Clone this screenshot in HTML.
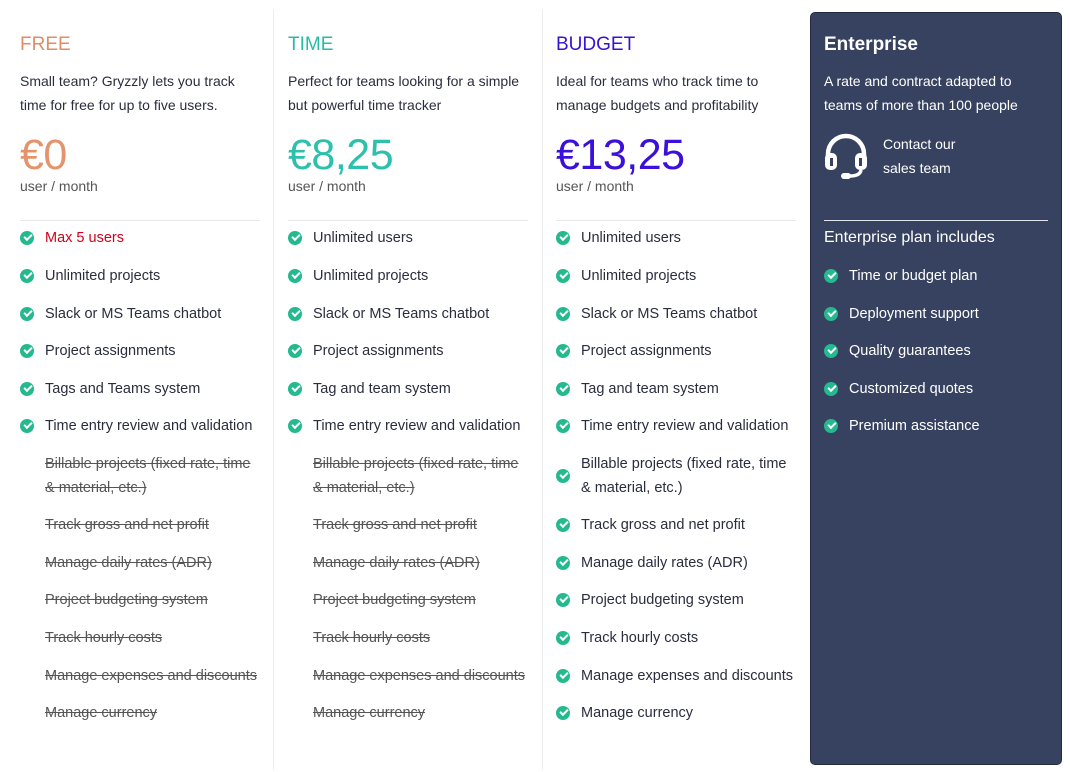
<!DOCTYPE html>
<html><head><meta charset="utf-8"><style>
body{margin:0;width:1070px;height:772px;background:#fff;font-family:"Liberation Sans",sans-serif;color:#2a2d3e;position:relative;overflow:hidden}
.a{position:absolute;white-space:nowrap}
.t{font-size:19px}
.d{font-size:14px;line-height:24px}
.p{font-size:43px;line-height:44px;letter-spacing:-0.5px}
.u{font-size:14px;color:#555}
.hr{position:absolute;height:1px;background:#e8e8ea}
.vr{position:absolute;width:1px;top:10px;height:760px;background:#ededee}
.i{position:absolute;font-size:14.5px;line-height:24px;white-space:nowrap;padding-left:25px}
.i::before{content:"";position:absolute;left:0;top:5px;width:14px;height:14px;border-radius:50%;background:#24b98e}
.i::after{content:"";position:absolute;left:4px;top:8px;width:6px;height:3px;border-left:2px solid #fff;border-bottom:2px solid #fff;transform:rotate(-45deg)}
.i.x{color:#555;text-decoration:line-through}
.i.x::before,.i.x::after{display:none}
.w .i{color:#fff}
.i.m::before{top:17px}.i.m::after{top:20px}
</style></head><body>
<div class="vr" style="left:273px"></div><div class="vr" style="left:542px"></div>
<div style="position:absolute;left:810px;top:12px;width:250px;height:751px;background:#36425f;border-radius:5px;border:1px solid #222b40"></div>

<div class="a t" style="left:20px;top:34px;color:#de8e66">FREE</div>
<div class="a d" style="left:20px;top:69px">Small team? Gryzzly lets you track<br>time for free for up to five users.</div>
<div class="a p" style="left:20px;top:133px;color:#e4946c">€0</div>
<div class="a u" style="left:20px;top:178px">user / month</div>
<div class="hr" style="left:20px;width:240px;top:220px"></div>

<div class="a t" style="left:288px;top:34px;color:#27bba8">TIME</div>
<div class="a d" style="left:288px;top:69px">Perfect for teams looking for a simple<br>but powerful time tracker</div>
<div class="a p" style="left:288px;top:133px;color:#2cc0ad">€8,25</div>
<div class="a u" style="left:288px;top:178px">user / month</div>
<div class="hr" style="left:288px;width:240px;top:220px"></div>

<div class="a t" style="left:556px;top:34px;color:#3612d4">BUDGET</div>
<div class="a d" style="left:556px;top:69px">Ideal for teams who track time to<br>manage budgets and profitability</div>
<div class="a p" style="left:556px;top:133px;color:#3a10da">€13,25</div>
<div class="a u" style="left:556px;top:178px">user / month</div>
<div class="hr" style="left:556px;width:240px;top:220px"></div>

<div class="a" style="left:824px;top:34px;font-size:19px;font-weight:bold;color:#fff">Enterprise</div>
<div class="a d" style="left:824px;top:69px;color:#fff">A rate and contract adapted to<br>teams of more than 100 people</div>
<svg style="position:absolute;left:822px;top:132px" width="48" height="48" viewBox="0 0 48 48"><path d="M6 28 V22 A18 18 0 0 1 42 22 V28" fill="none" stroke="#fff" stroke-width="4.5"/><rect x="3" y="21" width="12" height="17" rx="5" fill="#fff"/><rect x="33" y="21" width="12" height="17" rx="5" fill="#fff"/><rect x="8" y="26" width="3" height="8" fill="#36425f"/><rect x="37" y="26" width="3" height="8" fill="#36425f"/><path d="M39 38 Q38 44 28 44" fill="none" stroke="#fff" stroke-width="3.5"/><rect x="19" y="41" width="10" height="6" rx="3" fill="#fff"/></svg>
<div class="a d" style="left:883px;top:132px;color:#fff">Contact our<br>sales team</div>
<div class="hr" style="left:824px;width:224px;top:220px;background:#e0e3ea"></div>
<div class="a" style="left:824px;top:229px;font-size:16px;color:#fff">Enterprise plan includes</div>

<div style="position:absolute;left:20px;top:0">
<div class="i" style="top:226px;color:#d0021b">Max 5 users</div>
<div class="i" style="top:264px">Unlimited projects</div>
<div class="i" style="top:302px">Slack or MS Teams chatbot</div>
<div class="i" style="top:339px">Project assignments</div>
<div class="i" style="top:377px">Tags and Teams system</div>
<div class="i" style="top:414px">Time entry review and validation</div>
<div class="i x" style="top:452px">Billable projects (fixed rate, time<br>&amp; material, etc.)</div>
<div class="i x" style="top:513px">Track gross and net profit</div>
<div class="i x" style="top:551px">Manage daily rates (ADR)</div>
<div class="i x" style="top:588px">Project budgeting system</div>
<div class="i x" style="top:626px">Track hourly costs</div>
<div class="i x" style="top:664px">Manage expenses and discounts</div>
<div class="i x" style="top:701px">Manage currency</div>
</div>

<div style="position:absolute;left:288px;top:0">
<div class="i" style="top:226px">Unlimited users</div>
<div class="i" style="top:264px">Unlimited projects</div>
<div class="i" style="top:302px">Slack or MS Teams chatbot</div>
<div class="i" style="top:339px">Project assignments</div>
<div class="i" style="top:377px">Tag and team system</div>
<div class="i" style="top:414px">Time entry review and validation</div>
<div class="i x" style="top:452px">Billable projects (fixed rate, time<br>&amp; material, etc.)</div>
<div class="i x" style="top:513px">Track gross and net profit</div>
<div class="i x" style="top:551px">Manage daily rates (ADR)</div>
<div class="i x" style="top:588px">Project budgeting system</div>
<div class="i x" style="top:626px">Track hourly costs</div>
<div class="i x" style="top:664px">Manage expenses and discounts</div>
<div class="i x" style="top:701px">Manage currency</div>
</div>

<div style="position:absolute;left:556px;top:0">
<div class="i" style="top:226px">Unlimited users</div>
<div class="i" style="top:264px">Unlimited projects</div>
<div class="i" style="top:302px">Slack or MS Teams chatbot</div>
<div class="i" style="top:339px">Project assignments</div>
<div class="i" style="top:377px">Tag and team system</div>
<div class="i" style="top:414px">Time entry review and validation</div>
<div class="i m" style="top:452px">Billable projects (fixed rate, time<br>&amp; material, etc.)</div>
<div class="i" style="top:513px">Track gross and net profit</div>
<div class="i" style="top:551px">Manage daily rates (ADR)</div>
<div class="i" style="top:588px">Project budgeting system</div>
<div class="i" style="top:626px">Track hourly costs</div>
<div class="i" style="top:664px">Manage expenses and discounts</div>
<div class="i" style="top:701px">Manage currency</div>
</div>

<div class="w" style="position:absolute;left:824px;top:0">
<div class="i" style="top:264px">Time or budget plan</div>
<div class="i" style="top:302px">Deployment support</div>
<div class="i" style="top:339px">Quality guarantees</div>
<div class="i" style="top:377px">Customized quotes</div>
<div class="i" style="top:414px">Premium assistance</div>
</div>
</body></html>
